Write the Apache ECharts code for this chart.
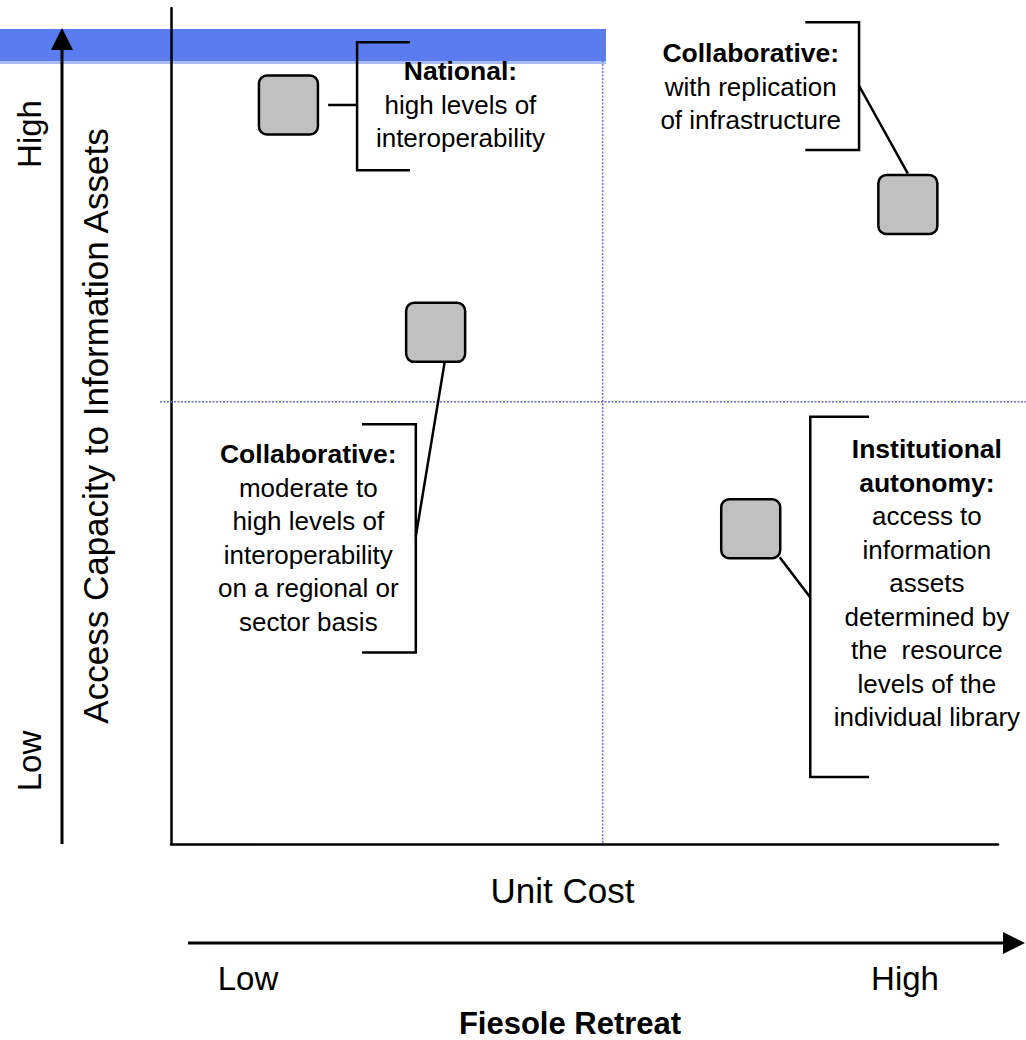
<!DOCTYPE html>
<html>
<head>
<meta charset="utf-8">
<script src="https://cdn.jsdelivr.net/npm/echarts@6/dist/echarts.min.js"></script>
<style>
html,body{margin:0;padding:0;background:#ffffff;}
#chart{width:1026px;height:1040px;}
</style>
</head>
<body>
<div id="chart"></div>
<script>
// ---------------- data (axis units 0..100) ----------------
const strategies = ['National', 'Collaborative (replication)', 'Collaborative (regional)', 'Institutional autonomy'];
const unitCost = [14.2, 89.1, 32.0, 70.1];
const accessCapacity = [88.4, 76.5, 61.2, 37.7];

const headings = [
  ['National:'],
  ['Collaborative:'],
  ['Collaborative:'],
  ['Institutional', 'autonomy:']
];
const bodies = [
  ['high levels of', 'interoperability'],
  ['with replication', 'of infrastructure'],
  ['moderate to', 'high levels of', 'interoperability', 'on a regional or', 'sector basis'],
  ['access to', 'information', 'assets', 'determined by', 'the  resource', 'levels of the', 'individual library']
];
// centre of each text block [unit cost, access capacity]
const labelAt = [[35.0, 88.4], [70.1, 90.6], [16.6, 36.6], [91.4, 31.2]];
// bracket: [spine x, top y, bottom y, end of the two arms x]
const bracketAt = [[22.5, 95.9, 80.6, 28.9], [83.2, 98.3, 83.0, 76.7], [29.6, 50.2, 22.9, 23.1], [77.3, 51.1, 8.0, 84.4]];
// leader line from square to bracket
const leaderFrom = [[19.0, 88.4], [83.2, 90.7], [33.1, 57.7], [73.6, 34.3]];
const leaderTo = [[22.5, 88.4], [89.1, 80.2], [29.6, 36.8], [77.3, 29.5]];
// quadrant dividers
const quadrantSplit = [52.2, 52.9];
const quadrantTop = 97.5;

const levelLabels = ['Low', 'High'];
const xAxisName = 'Unit Cost';
const yAxisName = 'Access Capacity to Information Assets';
const chartTitle = 'Fiesole Retreat';

// ---------------- chart ----------------
const FONT = "'Liberation Sans', Arial, Helvetica, sans-serif";
const chart = echarts.init(document.getElementById('chart'), null, {renderer: 'svg'});

const squareData = strategies.map((s, i) => [unitCost[i], accessCapacity[i], s]);
const bracketData = bracketAt.map((b, i) => b.concat(leaderFrom[i], leaderTo[i]));
const labelData = labelAt.map((p, i) => [p[0], p[1], i]);

function blockText(i) {
  return headings[i].map(h => '{b|' + h + '}').join('\n') + '\n' + bodies[i].join('\n');
}

const option = {
  animation: false,
  backgroundColor: '#ffffff',
  title: {
    text: chartTitle,
    left: 570,
    top: 1008,
    padding: 0,
    textAlign: 'center',
    textVerticalAlign: 'top',
    textStyle: {fontFamily: FONT, fontWeight: 'bold', fontSize: 31, color: '#000'}
  },
  grid: {left: 171, right: 28, top: 8, bottom: 196, containLabel: false, outerBoundsMode: 'none'},
  xAxis: {
    type: 'value', min: 0, max: 100,
    axisLine: {show: true, lineStyle: {color: '#000', width: 2.5}},
    axisTick: {show: false}, axisLabel: {show: false}, splitLine: {show: false},
    name: xAxisName, nameLocation: 'middle', nameGap: 29,
    nameTextStyle: {fontFamily: FONT, fontSize: 35, color: '#000', padding: [0, 44, 0, 0]}
  },
  yAxis: {
    type: 'value', min: 0, max: 100,
    axisLine: {show: true, lineStyle: {color: '#000', width: 2.5}},
    axisTick: {show: false}, axisLabel: {show: false}, splitLine: {show: false},
    name: yAxisName, nameLocation: 'middle', nameGap: 58, nameRotate: 90,
    nameTextStyle: {fontFamily: FONT, fontSize: 35, color: '#000'}
  },
  graphic: [
    // highlighted band
    {type: 'rect', z: -5, shape: {x: 0, y: 29, width: 606, height: 32}, style: {fill: '#5a7cef'}},
    {type: 'rect', z: -5, shape: {x: 0, y: 61, width: 606, height: 3}, style: {fill: '#a9baf5'}},
    // vertical arrow
    {type: 'line', z: 5, shape: {x1: 62, y1: 844, x2: 62, y2: 48}, style: {stroke: '#000', lineWidth: 3}},
    {type: 'polygon', z: 5, shape: {points: [[62, 28], [51, 50], [73, 50]]}, style: {fill: '#000'}},
    // horizontal arrow
    {type: 'line', z: 5, shape: {x1: 188, y1: 943, x2: 1005, y2: 943}, style: {stroke: '#000', lineWidth: 3}},
    {type: 'polygon', z: 5, shape: {points: [[1025, 943], [1003, 932], [1003, 954]]}, style: {fill: '#000'}},
    // level labels
    {type: 'text', x: 29, y: 761, rotation: Math.PI / 2,
      style: {text: levelLabels[0], align: 'center', verticalAlign: 'middle', fontFamily: FONT, fontSize: 33, fill: '#000'}},
    {type: 'text', x: 29, y: 134, rotation: Math.PI / 2,
      style: {text: levelLabels[1], align: 'center', verticalAlign: 'middle', fontFamily: FONT, fontSize: 33, fill: '#000'}},
    {type: 'text', x: 248, y: 978,
      style: {text: levelLabels[0], align: 'center', verticalAlign: 'middle', fontFamily: FONT, fontSize: 33, fill: '#000'}},
    {type: 'text', x: 905, y: 978,
      style: {text: levelLabels[1], align: 'center', verticalAlign: 'middle', fontFamily: FONT, fontSize: 33, fill: '#000'}}
  ],
  series: [
    {
      name: 'quadrants', type: 'custom', silent: true, clip: false, z: 1,
      data: [quadrantSplit],
      renderItem: function (params, api) {
        const cs = params.coordSys;
        const h = api.coord([0, api.value(1)]);
        const vTop = api.coord([api.value(0), quadrantTop]);
        const vBot = api.coord([api.value(0), 0]);
        const st = {stroke: '#6b6bd0', lineWidth: 1.5, lineDash: [2, 1.5]};
        return {type: 'group', children: [
          {type: 'line', shape: {x1: cs.x - 11, y1: h[1], x2: cs.x + cs.width + 28, y2: h[1]}, style: st},
          {type: 'line', shape: {x1: vTop[0], y1: vTop[1], x2: vBot[0], y2: vBot[1]}, style: st}
        ]};
      }
    },
    {
      name: 'brackets', type: 'custom', silent: true, clip: false, z: 3,
      data: bracketData,
      renderItem: function (params, api) {
        const spine = api.value(0), top = api.value(1), bot = api.value(2), arm = api.value(3);
        const pts = [[arm, top], [spine, top], [spine, bot], [arm, bot]].map(p => api.coord(p));
        const a = api.coord([api.value(4), api.value(5)]);
        const b = api.coord([api.value(6), api.value(7)]);
        return {type: 'group', children: [
          {type: 'polyline', shape: {points: pts}, style: {stroke: '#000', lineWidth: 2.5, fill: null}},
          {type: 'line', shape: {x1: a[0], y1: a[1], x2: b[0], y2: b[1]}, style: {stroke: '#000', lineWidth: 2.5}}
        ]};
      }
    },
    {
      name: 'strategies', type: 'custom', clip: false, z: 4,
      data: squareData,
      renderItem: function (params, api) {
        const p = api.coord([api.value(0), api.value(1)]);
        const s = 59;
        return {type: 'rect', shape: {x: p[0] - s / 2, y: p[1] - s / 2, width: s, height: s, r: 8},
          style: {fill: '#c0c0c0', stroke: '#000', lineWidth: 2.5}};
      }
    },
    {
      name: 'labels', type: 'custom', silent: true, clip: false, z: 4,
      data: labelData,
      renderItem: function (params, api) {
        const p = api.coord([api.value(0), api.value(1)]);
        const i = api.value(2);
        return {type: 'text', x: p[0], y: p[1], style: {
          text: blockText(i), align: 'center', verticalAlign: 'middle',
          fontFamily: FONT, fontSize: 26, lineHeight: 33.5, fill: '#000',
          rich: {b: {fontFamily: FONT, fontSize: 26.5, fontWeight: 'bold', lineHeight: 33.5, fill: '#000'}}
        }};
      }
    }
  ]
};
chart.setOption(option);
</script>
</body>
</html>
